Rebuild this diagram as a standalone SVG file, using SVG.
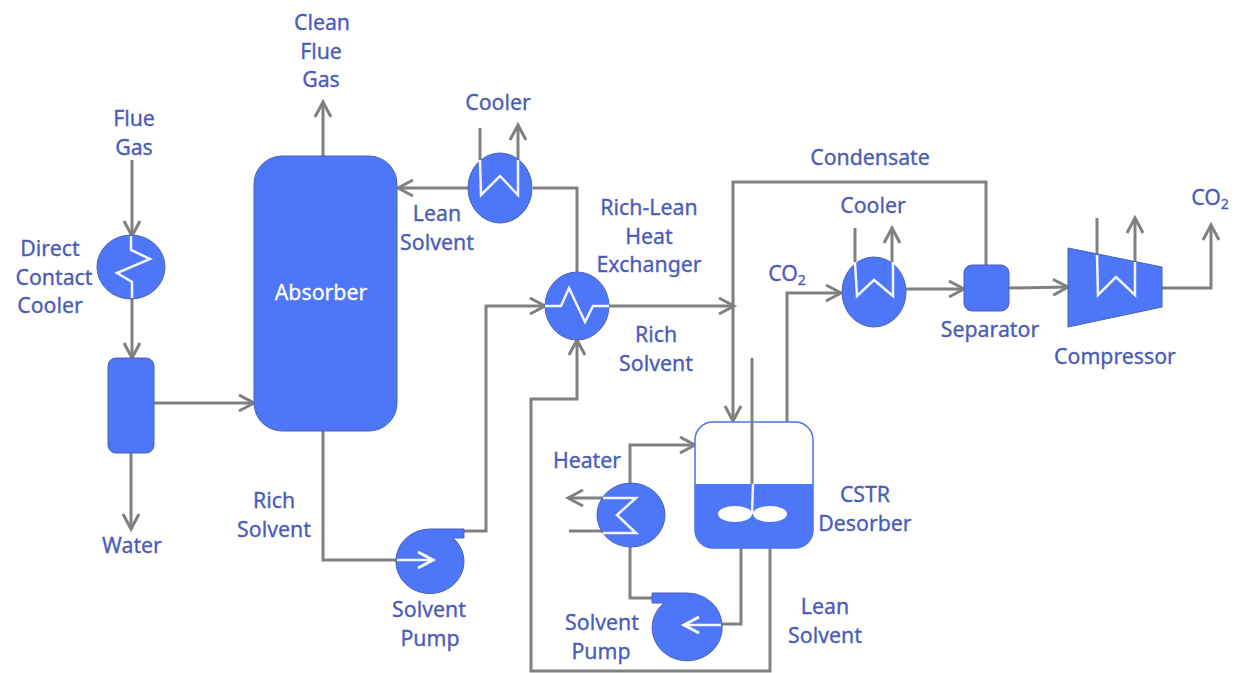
<svg xmlns="http://www.w3.org/2000/svg" width="1237" height="673" viewBox="0 0 1237 673">
<defs>
<marker id="arr" markerUnits="userSpaceOnUse" markerWidth="22" markerHeight="22" refX="17" refY="11" orient="auto"><path d="M2 3L17 11L2 19" fill="none" stroke="#808080" stroke-width="3"/></marker>
<marker id="warr" markerUnits="userSpaceOnUse" markerWidth="22" markerHeight="22" refX="17" refY="11" orient="auto"><path d="M2 3L17 11L2 19" fill="none" stroke="#ffffff" stroke-width="3"/></marker>
</defs>
<style>
.c{fill:none;stroke:#808080;stroke-width:3}
.a{marker-end:url(#arr)}
.n{fill:#4d76f9;stroke:#4a62b8;stroke-width:1}
.w{fill:none;stroke:#f2f5ff;stroke-width:2.500}
text{font-family:"Noto Sans","Lato",sans-serif;font-size:21.300px;fill:#4a5cb8;stroke:#4a5cb8;stroke-width:0.300;text-anchor:middle}
tspan.s{font-size:14px}
</style>
<rect width="1237" height="673" fill="#ffffff"/>
<g id="connectors">
<path class="c a" d="M323 156V102"/>
<path class="c a" d="M132 160V236"/>
<path class="c a" d="M132 298V358"/>
<path class="c a" d="M154 403H254"/>
<path class="c a" d="M131 453V529"/>
<path class="c" d="M323 431V560H397"/>
<path class="c a" d="M464 531H486V306H545"/>
<path class="c a" d="M468 188H398"/>
<path class="c" d="M533 188H577V272"/>
<path class="c" d="M480 160V128"/>
<path class="c a" d="M518 160V125"/>
<path class="c a" d="M609 306H734"/>
<path class="c a" d="M986 265V182H733V421"/>
<path class="c a" d="M787 422V293H841"/>
<path class="c" d="M855 262V228"/>
<path class="c a" d="M892 262V228"/>
<path class="c a" d="M906 289H964"/>
<path class="c a" d="M1009 288L1068 287"/>
<path class="c" d="M1097 254V218"/>
<path class="c a" d="M1135 262V218"/>
<path class="c a" d="M1162 288H1211V225"/>
<path class="c a" d="M770 548V671H531V399H577V340"/>
<path class="c a" d="M630 484V445H695"/>
<path class="c" d="M630 547V598H654"/>
<path class="c" d="M741 548V624H722"/>
<path class="c a" d="M603 498H568"/>
<path class="c" d="M569 531H603"/>
</g>
<g id="absorber"><rect class="n" x="254" y="156" width="143" height="275" rx="28"/><text x="321" y="300" style="fill:#ffffff;stroke:#ffffff">Absorber</text></g>
<g id="direct-contact-cooler"><ellipse class="n" cx="131" cy="267" rx="34" ry="32"/><path class="w" d="M131 236V250L150 259L117 273L132 282V298"/></g>
<g id="vessel"><rect class="n" x="108" y="358" width="46" height="95" rx="8"/></g>
<g id="cooler-1"><ellipse class="n" cx="500" cy="188" rx="32" ry="35"/><path class="w" d="M480 160L481 195L500 176L518 195V160"/></g>
<g id="heat-exchanger"><ellipse class="n" cx="577" cy="306" rx="32" ry="34"/><path class="w" d="M545 306H561L569 288L585 322L593 306H609"/></g>
<g id="solvent-pump-1"><path class="n" d="M396 560A34 32 0 0 1 430 529H464V538H453A34 32 0 1 1 396 560Z"/><path class="w" d="M397 560H433" marker-end="url(#warr)"/></g>
<g id="heater"><ellipse class="n" cx="631" cy="515" rx="34" ry="32"/><path class="w" d="M603 498H636L617 515L636 533H603"/></g>
<g id="solvent-pump-2"><path class="n" d="M722 625A35 33 0 1 1 664 603H652V593H687A35 33 0 0 1 722 625Z"/><path class="w" d="M721 625H684" marker-end="url(#warr)"/></g>
<g id="cstr-desorber"><rect x="695" y="422" width="118" height="126" rx="18" fill="#ffffff" stroke="#4a70e8" stroke-width="1.500"/><path d="M695 484H813V530A18 18 0 0 1 795 548H713A18 18 0 0 1 695 530Z" fill="#4d76f9"/><path class="c" d="M752 358V484"/><path class="w" d="M753 484L752 514"/><ellipse cx="735" cy="514" rx="17" ry="8" fill="#ffffff"/><ellipse cx="770" cy="514" rx="17" ry="8" fill="#ffffff"/></g>
<g id="cooler-2"><ellipse class="n" cx="874" cy="292" rx="32" ry="35"/><path class="w" d="M855 262L857 296L874 280L893 296V262"/></g>
<g id="separator"><rect class="n" x="964" y="265" width="45" height="46" rx="8"/></g>
<g id="compressor"><path class="n" d="M1068 248L1162 267V307L1068 327Z"/><path class="w" d="M1097 255L1098 295L1116 277L1135 295V262"/></g>
<g id="labels">
<text x="322" y="30">Clean</text><text x="321" y="59">Flue</text><text x="321" y="87">Gas</text>
<text x="134" y="126">Flue</text><text x="134" y="155">Gas</text>
<text x="50" y="256">Direct</text><text x="54" y="285">Contact</text><text x="50" y="313">Cooler</text>
<text x="132" y="553">Water</text>
<text x="498" y="110">Cooler</text>
<text x="437" y="221">Lean</text><text x="437" y="250">Solvent</text>
<text x="649" y="215">Rich-Lean</text><text x="649" y="244">Heat</text><text x="649" y="272">Exchanger</text>
<text x="870" y="165">Condensate</text>
<text x="873" y="213">Cooler</text>
<text x="787" y="281">CO<tspan class="s" dy="4">2</tspan></text>
<text x="1210" y="205">CO<tspan class="s" dy="4">2</tspan></text>
<text x="656" y="342">Rich</text><text x="656" y="371">Solvent</text>
<text x="990" y="337">Separator</text>
<text x="1115" y="364">Compressor</text>
<text x="274" y="508">Rich</text><text x="274" y="537">Solvent</text>
<text x="429" y="617">Solvent</text><text x="430" y="646">Pump</text>
<text x="587" y="468">Heater</text>
<text x="865" y="502">CSTR</text><text x="865" y="531">Desorber</text>
<text x="825" y="614">Lean</text><text x="825" y="643">Solvent</text>
<text x="602" y="630">Solvent</text><text x="601" y="659">Pump</text>
</g>
</svg>
